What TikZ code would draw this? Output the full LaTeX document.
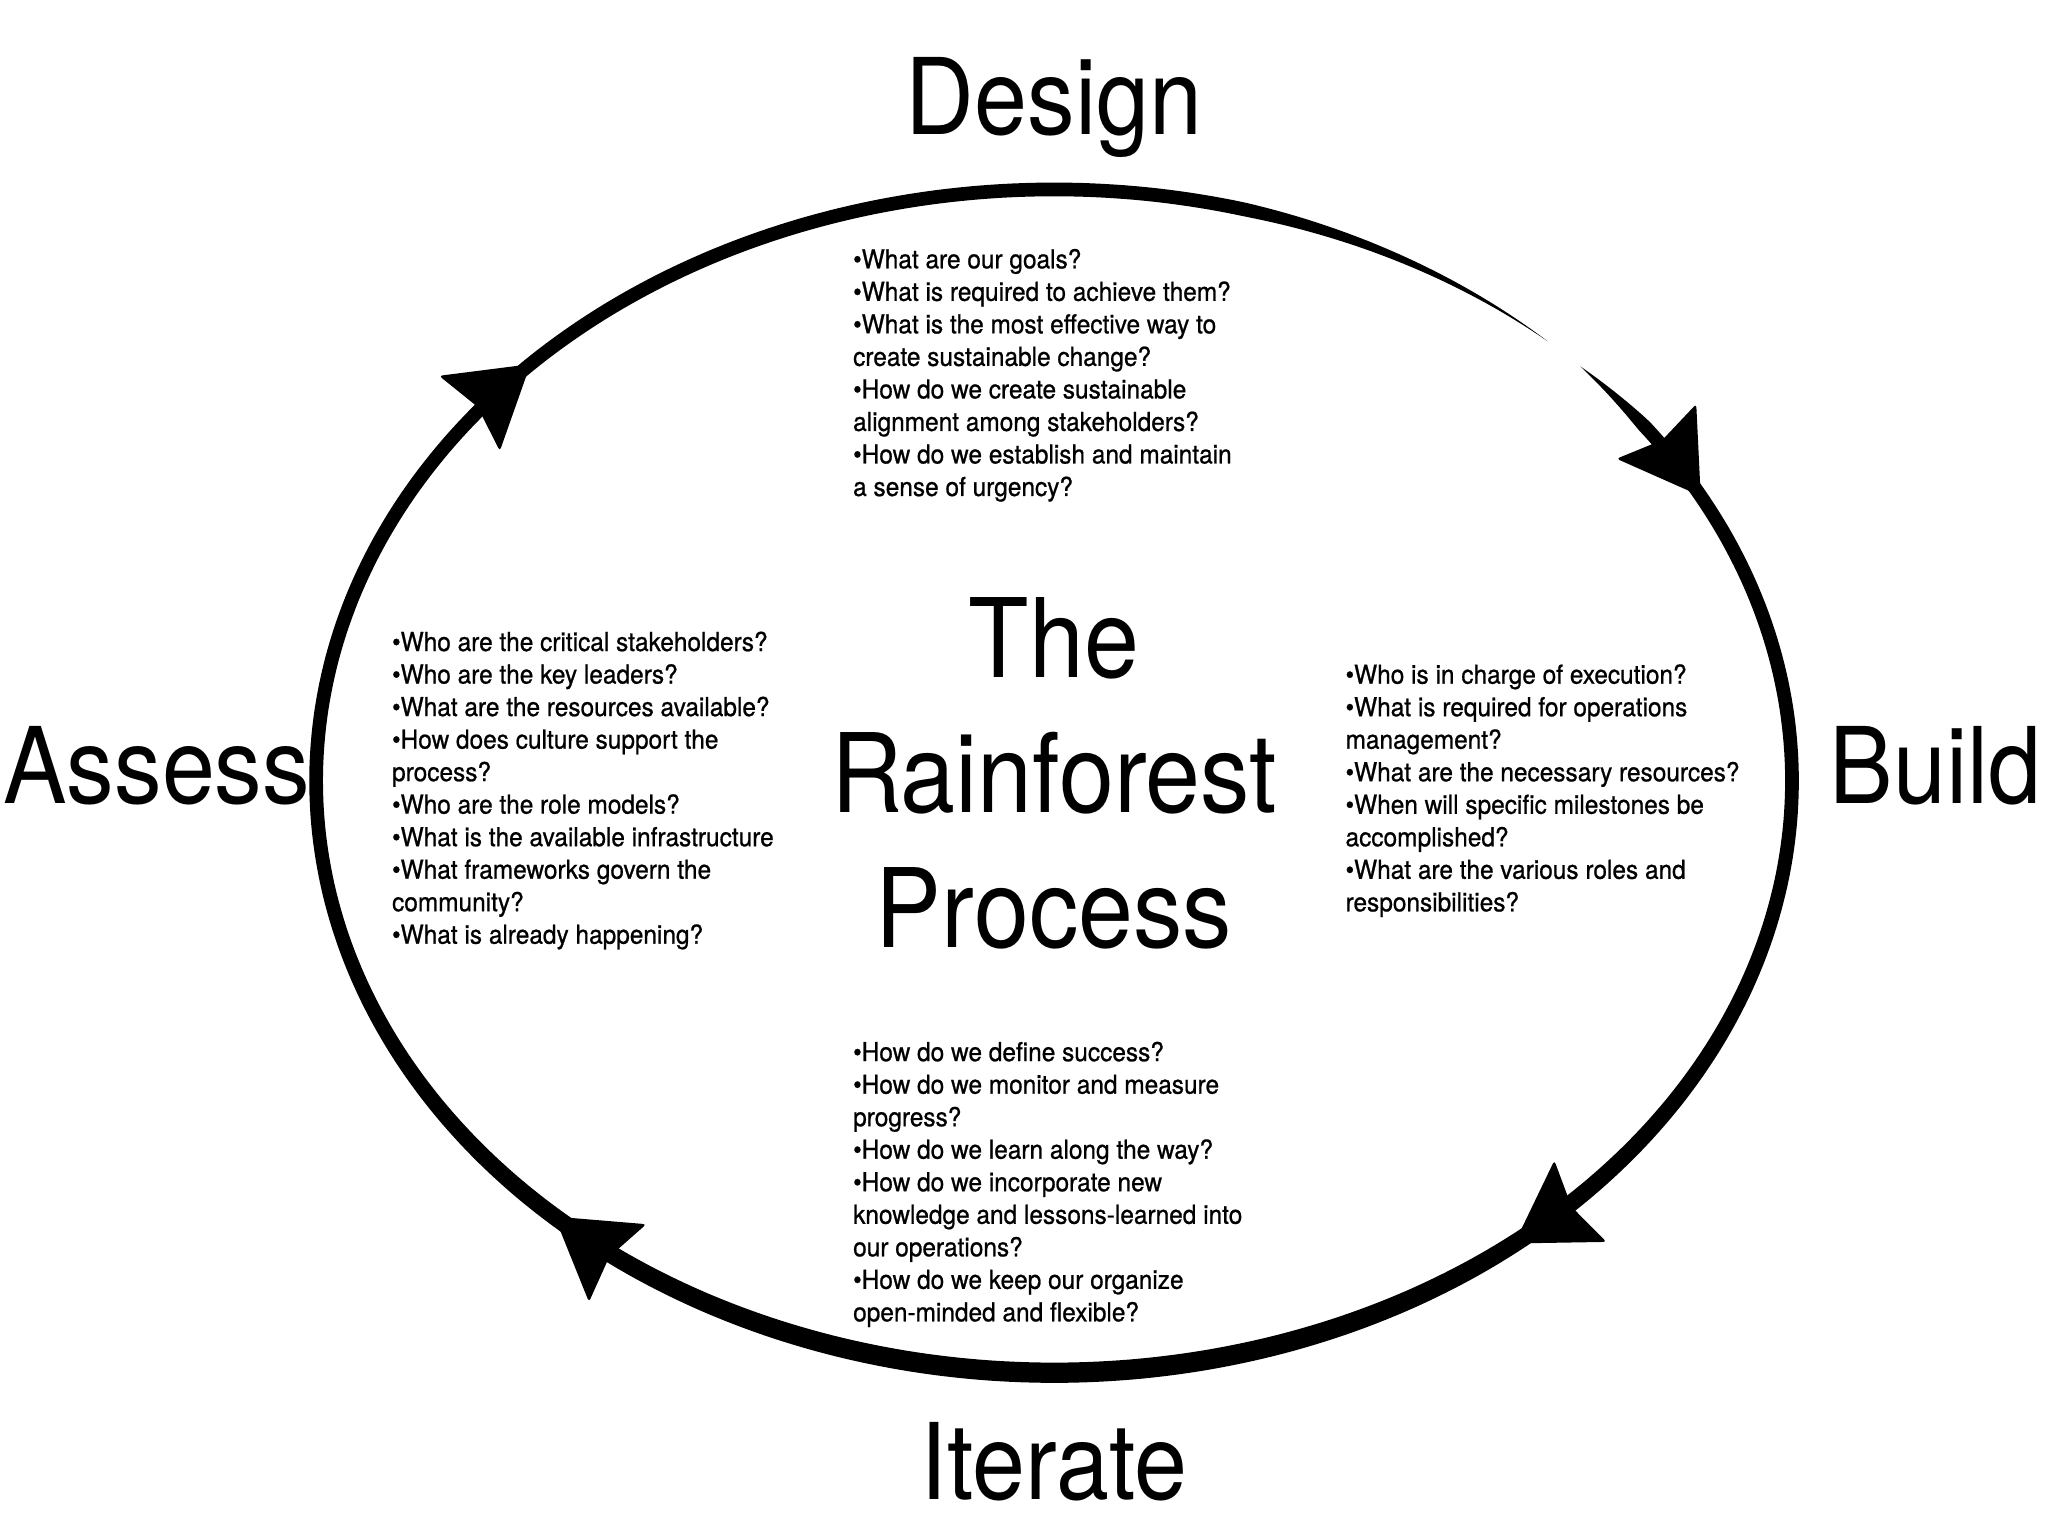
\documentclass[tikz,border=0pt]{standalone}
\usepackage{fontspec}
\setmainfont{TeX Gyre Heros}
\newfontfamily\headfont[FakeStretch=0.9]{TeX Gyre Heros}
\newfontfamily\bodyfont[FakeStretch=0.935,FakeBold=0.8]{TeX Gyre Heros}
\begin{document}
\begin{tikzpicture}[x=1pt,y=-1pt,
  declare function={
    wb(\u)=10.5+5*max(0,-sin(\u))^2;
    ww(\u)=(\u>37) ? (wb(\u)*(44.5-\u)/7.5) : ((\u<-285) ? (wb(\u)*(\u+312)/27) : wb(\u));
  },
  heading/.style={font=\headfont\fontsize{81}{97}\selectfont, inner sep=0pt, anchor=base},
  bigtitle/.style={font=\headfont\fontsize{84}{103.5}\selectfont, inner sep=0pt, align=center, anchor=north},
  qs/.style={font=\bodyfont\fontsize{20}{24.9}\selectfont, align=left, inner sep=0pt, anchor=north west},
  arrowhead/.style={fill=black, rounded corners=2.5pt}
]
\fill[white] (0,0) rectangle (1568,1176);
\useasboundingbox (0,0) rectangle (1568,1176);

% cycle stroke (tapered at top-right gap)
\fill[black] plot[domain=44.5:-312, samples=420, variable=\u]
   ({807+(565+ww(\u)/2)*cos(\u)},{598-(453+ww(\u)/2)*sin(\u)})
 -- plot[domain=-312:44.5, samples=420, variable=\u]
   ({807+(565-ww(\u)/2)*cos(\u)},{598-(453-ww(\u)/2)*sin(\u)})
 -- cycle;

% arrowheads (clockwise flow)
\foreach \t in {135.2, 28.8, -51.4, -132.6}{
  \begin{scope}[shift={({807+565*cos(\t)},{598-453*sin(\t)})}, rotate={atan2(-453*cos(\t),565*sin(\t))}]
    \fill[arrowhead] (0,0) -- (-60,37) -- (-52,0) -- (-60,-37) -- cycle;
  \end{scope}
}

% stage labels
\node[heading] (design) at (807,103) {Design};
\node[heading] (assess) at (120,615) {Assess};
\node[heading] (build) at (1482,615) {Build};
\node[heading] (iterate) at (807,1148) {Iterate};

\node[bigtitle] (title) at (807,457) {The\\Rainforest\\Process};

% questions
\node[qs] (qdesign) at (653,190.4) {•What are our goals?\\
•What is required to achieve them?\\
•What is the most effective way to\\
create sustainable change?\\
•How do we create sustainable\\
alignment among stakeholders?\\
•How do we establish and maintain\\
a sense of urgency?};

\node[qs] (qassess) at (300,483.4) {•Who are the critical stakeholders?\\
•Who are the key leaders?\\
•What are the resources available?\\
•How does culture support the\\
process?\\
•Who are the role models?\\
•What is the available infrastructure\\
•What frameworks govern the\\
community?\\
•What is already happening?};

\node[qs] (qbuild) at (1030,508.4) {•Who is in charge of execution?\\
•What is required for operations\\
management?\\
•What are the necessary resources?\\
•When will specific milestones be\\
accomplished?\\
•What are the various roles and\\
responsibilities?};

\node[qs] (qiterate) at (653,797.4) {•How do we define success?\\
•How do we monitor and measure\\
progress?\\
•How do we learn along the way?\\
•How do we incorporate new\\
knowledge and lessons-learned into\\
our operations?\\
•How do we keep our organize\\
open-minded and flexible?};
\end{tikzpicture}
\end{document}
